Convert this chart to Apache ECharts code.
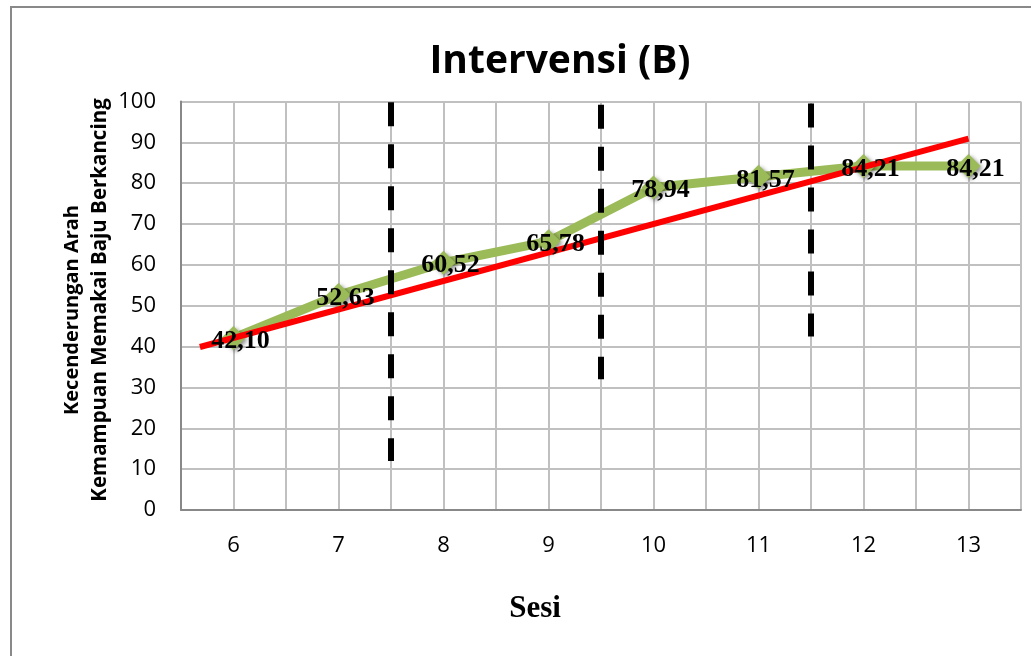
<!DOCTYPE html>
<html>
<head>
<meta charset="utf-8">
<script src="https://cdn.jsdelivr.net/npm/echarts@6/dist/echarts.min.js"></script>
<style>html,body{margin:0;padding:0;background:#fff}#c{width:1031px;height:656px}</style>
</head>
<body>
<div id="c"></div>
<script>
const sessions = [6, 7, 8, 9, 10, 11, 12, 13];
const scores = [42.10, 52.63, 60.52, 65.78, 78.94, 81.57, 84.21, 84.21];
const trendX = [5.68, 13];
const trendY = [39.9, 90.9];
const phaseX = [7.5, 9.5, 11.5];
const phaseTop = [99.8, 99.2, 99.5];
const phaseBottom = [12, 32, 42.5];
const yTicks = [0, 10, 20, 30, 40, 50, 60, 70, 80, 90, 100];

const chart = echarts.init(document.getElementById('c'));
const fmt = v => v.toFixed(2).replace('.', ',');

const series = [
  {
    type: 'line',
    data: sessions.map((s, i) => [s, scores[i]]),
    symbol: 'diamond',
    symbolSize: 24,
    lineStyle: { color: '#9BBB59', width: 9 },
    itemStyle: { color: '#9BBB59', opacity: 1, shadowBlur: 4, shadowColor: 'rgba(0,0,0,0.45)', shadowOffsetX: 2, shadowOffsetY: 2 },
    label: { show: false },
    z: 2,
    silent: true
  },
  {
    type: 'line',
    data: trendX.map((x, i) => [x, trendY[i]]),
    symbol: 'none',
    lineStyle: { color: '#FF0000', width: 6 },
    z: 3,
    silent: true
  },
  {
    type: 'scatter',
    data: sessions.map((s, i) => [s, scores[i]]),
    symbolSize: 1,
    itemStyle: { color: 'rgba(0,0,0,0)', opacity: 1 },
    label: {
      show: true,
      position: 'inside',
      offset: [7, 3],
      formatter: p => fmt(p.value[1]),
      fontFamily: '"Liberation Serif", "Times New Roman", serif',
      fontWeight: 'bold',
      fontSize: 26,
      color: '#000',
      opacity: 1,
      textBorderWidth: 0
    },
    z: 5,
    silent: true
  }
];
phaseX.forEach((x, i) => {
  series.push({
    type: 'line',
    data: [[x, phaseTop[i]], [x, phaseBottom[i]]],
    symbol: 'none',
    lineStyle: { color: '#000', width: 6, type: [24, 18], cap: 'butt' },
    z: 6,
    silent: true
  });
});

chart.setOption({
  animation: false,
  backgroundColor: '#fff',
  grid: { left: 181, right: 10, top: 101.5, bottom: 146, containLabel: false },
  title: [
    {
      text: 'Intervensi (B)',
      left: 555, top: 37, textAlign: 'center',
      textStyle: { fontFamily: '"Open Sans", sans-serif', fontWeight: 'bold', fontSize: 39, color: '#000' }
    },
    {
      text: 'Sesi',
      left: 530, top: 588, textAlign: 'center',
      textStyle: { fontFamily: '"Liberation Serif", serif', fontWeight: 'bold', fontSize: 31, color: '#000' }
    }
  ],
  xAxis: {
    type: 'value',
    min: 5.5, max: 13.5, interval: 0.5,
    axisLine: { show: true, onZero: false, lineStyle: { color: '#888', width: 2 } },
    axisTick: { show: false },
    splitLine: { show: true, lineStyle: { color: '#c0c0c0', width: 2 } },
    axisLabel: {
      margin: 25,
      fontFamily: '"Open Sans", sans-serif', fontSize: 22, color: '#000',
      showMinLabel: true, showMaxLabel: true,
      formatter: v => (Number.isInteger(v) && sessions.includes(v)) ? String(v) : ''
    }
  },
  yAxis: {
    type: 'value',
    min: yTicks[0], max: yTicks[yTicks.length - 1], interval: 10,
    axisLine: { show: true, lineStyle: { color: '#888', width: 2 } },
    axisTick: { show: false },
    splitLine: { show: true, lineStyle: { color: '#c0c0c0', width: 2 } },
    axisLabel: { margin: 25, fontFamily: '"Open Sans", sans-serif', fontSize: 22, color: '#000' }
  },
  graphic: [
    {
      type: 'rect', silent: true, z: -1,
      shape: { x: 11, y: 7, width: 1060, height: 700 },
      style: { fill: 'none', stroke: '#898989', lineWidth: 2 }
    },
    {
      type: 'text', x: 72, y: 310, rotation: Math.PI / 2,
      style: { text: 'Kecenderungan Arah', fontFamily: '"Open Sans", sans-serif', fontWeight: 'bold', fontSize: 20, fill: '#000', align: 'center', verticalAlign: 'middle' }
    },
    {
      type: 'text', x: 100, y: 300, rotation: Math.PI / 2,
      style: { text: 'Kemampuan Memakai Baju Berkancing', fontFamily: '"Open Sans", sans-serif', fontWeight: 'bold', fontSize: 20.5, fill: '#000', align: 'center', verticalAlign: 'middle' }
    }
  ],
  series: series
});
</script>
</body>
</html>
